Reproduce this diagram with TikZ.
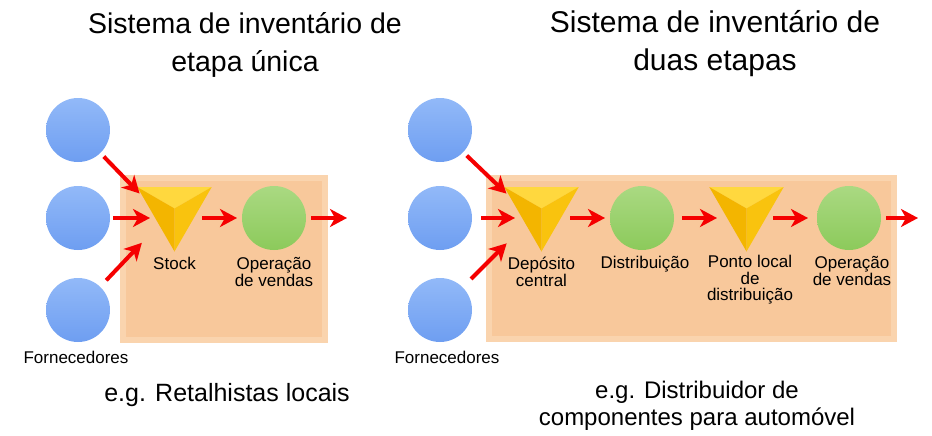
\documentclass[tikz,border=0pt]{standalone}
\usepackage{fontspec}
\setmainfont{Liberation Sans}
\usetikzlibrary{positioning,shapes.geometric,arrows.meta}

\definecolor{supA}{HTML}{92B9F8}
\definecolor{supB}{HTML}{5C90EE}
\definecolor{supC}{HTML}{6E9EF1}
\definecolor{opA}{HTML}{AAD982}
\definecolor{opB}{HTML}{7BC146}
\definecolor{opC}{HTML}{8CCA5B}
\definecolor{facetop}{HTML}{FFD83E}
\definecolor{faceleft}{HTML}{F3B500}
\definecolor{faceright}{HTML}{F9C30E}
\definecolor{boxedge}{HTML}{FAD4AE}
\definecolor{boxface}{HTML}{F8C89B}
\definecolor{flowred}{HTML}{F50000}

\newcommand\pyramid[1]{%
  \fill[facetop] (#1.corner 2) -- (#1.corner 3) -- (#1.center) -- cycle;
  \fill[faceleft] (#1.corner 3) -- (#1.corner 1) -- (#1.center) -- cycle;
  \fill[faceright] (#1.corner 1) -- (#1.corner 2) -- (#1.center) -- cycle;}

\begin{document}
\begin{tikzpicture}[x=1pt, y=-1pt,
  supplier/.style={circle, minimum size=64pt, inner sep=0pt, outer sep=0pt,
    top color=supA, middle color=supB, bottom color=supC},
  operation/.style={circle, minimum size=64pt, inner sep=0pt, outer sep=0pt,
    top color=opA, middle color=opB, bottom color=opC},
  stockpoint/.style={regular polygon, regular polygon sides=3,
    shape border rotate=180, minimum size=86pt, inner sep=0pt, outer sep=0pt},
  flow/.style={draw=flowred, line width=4pt,
    -{Stealth[length=17pt, width=18pt, inset=5pt]}},
  caption/.style={font=\fontsize{17}{16.5}\selectfont, align=center, inner sep=0pt},
  heading/.style={align=center, inner sep=0pt},
  example/.style={align=center, inner sep=0pt}]
\useasboundingbox (0,0) rectangle (932,436);

\def\ya{130}
\def\yb{218}
\def\yc{310}
\def\ys{208.5}

\def\xa{78}
\def\xb{174.5}
\def\xc{274}
\def\xd{347}

\def\xe{440}
\def\xf{541.5}
\def\xg{642}
\def\xh{746.5}
\def\xi{849}
\def\xj{918}

\fill[boxedge] (120,175) rectangle (328,343);
\fill[boxface] (126,181) rectangle (322,337);
\fill[boxedge] (486,175) rectangle (897,342);
\fill[boxface] (492,181) rectangle (891,336);

\node[supplier] (fa) at (\xa, \ya) {};
\node[supplier] (fb) at (\xa, \yb) {};
\node[supplier] (fc) at (\xa, \yc) {};
\node[stockpoint] (stock) at (\xb, \ys) {};
\node[operation] (sales) at (\xc, \yb) {};
\coordinate (exit) at (\xd, \yb);
\pyramid{stock}

\node[supplier] (fd) at (\xe, \ya) {};
\node[supplier] (fe) at (\xe, \yb) {};
\node[supplier] (ff) at (\xe, \yc) {};
\node[stockpoint] (depot) at (\xf, \ys) {};
\node[operation] (dist) at (\xg, \yb) {};
\node[stockpoint] (local) at (\xh, \ys) {};
\node[operation] (salesb) at (\xi, \yb) {};
\coordinate (exitb) at (\xj, \yb);
\pyramid{depot}
\pyramid{local}

\draw[flow, shorten <=5pt, shorten >=5pt] (fa) -- (stock.160);
\draw[flow, shorten <=3pt, shorten >=24.5pt] (fb) -- (fb -| stock);
\draw[flow, shorten <=9pt, shorten >=25pt] (fc) -- (stock);
\draw[flow, shorten <=27.5pt, shorten >=5pt] (sales -| stock) -- (sales);
\draw[flow, shorten <=5pt] (sales) -- (exit);

\draw[flow, shorten <=5pt, shorten >=5pt] (fd) -- (depot.160);
\draw[flow, shorten <=9pt, shorten >=26.5pt] (fe) -- (fe -| depot);
\draw[flow, shorten <=12pt, shorten >=27pt] (ff) -- (depot);
\draw[flow, shorten <=28.5pt, shorten >=5pt] (dist -| depot) -- (dist);
\draw[flow, shorten <=8pt, shorten >=29.5pt] (dist) -- (dist -| local);
\draw[flow, shorten <=26.5pt, shorten >=9pt] (salesb -| local) -- (salesb);
\draw[flow, shorten <=5pt] (salesb) -- (exitb);

\node[caption] (tstock) at (\xb, 263) {Stock};
\node[caption] (tsales) at (\xc, 272) {Operação\\de vendas};
\node[caption] (tforn) at (76, 357) {Fornecedores};

\node[caption] (tdepot) at (\xf, 272) {Depósito\\central};
\node[caption] (tdist) at (645, 264) {Distribuição};
\node[caption] (tlocal) at (750, 280) {Ponto local\\de\\distribuição};
\node[caption] (tsalesb) at (852, 271) {Operação\\de vendas};
\node[caption] (tfornb) at (447, 357) {Fornecedores};

\node[heading, font=\fontsize{28.5}{38}\selectfont] (titlea) at (245, 44.5)
  {Sistema de inventário de\\etapa única};
\node[heading, font=\fontsize{30}{38}\selectfont] (titleb) at (715, 44)
  {Sistema de inventário de\\duas etapas};

\node[example, font=\fontsize{25}{27}\selectfont] (exa) at (227, 395.5)
  {e.g. Retalhistas locais};
\node[example, font=\fontsize{24}{27}\selectfont] (exb) at (697, 406)
  {e.g. Distribuidor de\\componentes para automóvel};
\end{tikzpicture}
\end{document}
